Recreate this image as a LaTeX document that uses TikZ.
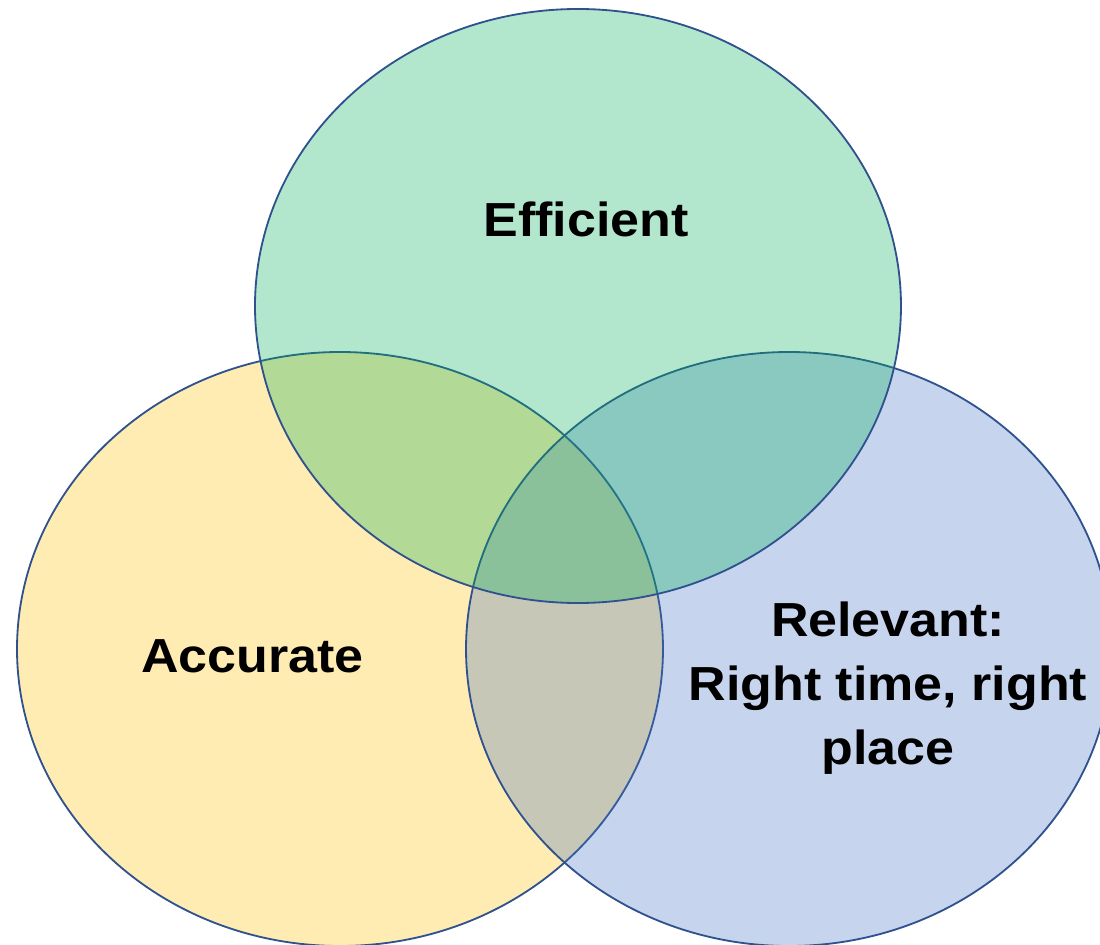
\documentclass[tikz,border=0pt]{standalone}
\usepackage{fontspec}
\setmainfont{Liberation Sans}
\definecolor{accyellow}{HTML}{FFC000}
\definecolor{relblue}{HTML}{4472C4}
\definecolor{effgreen}{HTML}{00B058}
\definecolor{rimblue}{HTML}{2F528F}
\tikzset{
  venn/.style={draw=rimblue, line width=1.3pt, fill opacity=0.3, draw opacity=1},
  vtext/.style={transform shape, align=center, text=black,
    font=\fontsize{34}{45.5}\selectfont\bfseries}
}
\begin{document}
\begin{tikzpicture}[xscale=1.0875]
  \useasboundingbox (0,0) rectangle (25.2874,23.6);
  % the three sets
  \draw[venn, fill=accyellow] (7.816,7.375) circle (7.425);
  \draw[venn, fill=relblue] (18.138,7.375) circle (7.425);
  \draw[venn, fill=effgreen] (13.287,15.95) circle (7.425);
  % names of the sets
  \draw
    (13.471,17.675) node[vtext, anchor=base] (eff){Efficient}
    (5.805,6.8) node[vtext, anchor=base] (acc){Accurate}
    (20.414,4.5) node[vtext, anchor=base] (rel){Relevant:\\Right time, right\\place};
\end{tikzpicture}
\end{document}
